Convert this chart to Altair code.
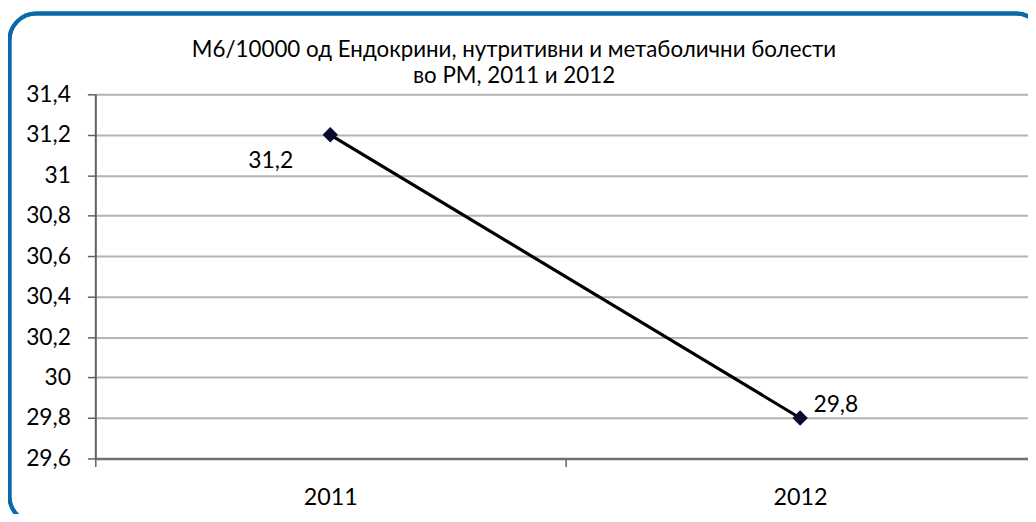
import altair as alt
import pandas as pd

years = [2011, 2012]
values = [31.2, 29.8]
value_labels = ["31,2", "29,8"]
y_ticks = [29.6, 29.8, 30.0, 30.2, 30.4, 30.6, 30.8, 31.0, 31.2, 31.4]
x_ticks = [2010.5, 2011, 2011.5, 2012]
title_lines = ["М6/10000 од Ендокрини, нутритивни и метаболични болести", "во РМ, 2011 и 2012"]

df = pd.DataFrame({"year": years, "value": values, "label": value_labels})
title_df = pd.DataFrame({"line": title_lines})

FONT = "Lato"

x_enc = alt.X(
    "year:Q",
    scale=alt.Scale(domain=[2010.5, 2012.485], nice=False, zero=False),
    axis=alt.Axis(
        values=x_ticks,
        labelExpr="(datum.value == 2011 || datum.value == 2012) ? '' + datum.value : ''",
        tickOpacity={"condition": {"test": "datum.value == 2011 || datum.value == 2012", "value": 0}, "value": 1},
        grid=False,
        title=None,
        tickSize=8,
        tickColor="#606060",
        tickWidth=1.5,
        domainColor="#707070",
        domainWidth=2.5,
        labelPadding=19,
        labelFontSize=23.5,
        labelFont=FONT,
        labelColor="#000000",
        labelFlush=False,
        labelOverlap=False,
    ),
)
y_enc = alt.Y(
    "value:Q",
    scale=alt.Scale(domain=[29.6, 31.4], nice=False, zero=False),
    axis=alt.Axis(
        values=y_ticks,
        labelExpr="replace('' + round(datum.value * 10) / 10, '.', ',')",
        grid=True,
        gridColor="#b4b4b4",
        gridWidth=2,
        title=None,
        tickSize=8,
        tickColor="#606060",
        tickWidth=1.5,
        domainColor="#606060",
        domainWidth=2,
        labelPadding=17,
        labelFontSize=23,
        labelFont=FONT,
        labelColor="#000000",
        labelOverlap=False,
    ),
)

base = alt.Chart(df)

frame = base.mark_rect(
    fill=None, filled=False, stroke="#0b69ab", strokeWidth=4, cornerRadius=27
).encode(
    x=alt.value(-86.5), x2=alt.value(955), y=alt.value(-81.5), y2=alt.value(432)
)

title1 = alt.Chart(title_df).transform_filter(
    alt.datum.line == title_lines[0]
).mark_text(font=FONT, fontSize=22.5, color="#000000", align="center", baseline="alphabetic").encode(
    x=alt.value(422), y=alt.value(-38), text="line:N"
)
title2 = alt.Chart(title_df).transform_filter(
    alt.datum.line == title_lines[1]
).mark_text(font=FONT, fontSize=22.5, color="#000000", align="center", baseline="alphabetic").encode(
    x=alt.value(422), y=alt.value(-11), text="line:N"
)

line = base.mark_line(color="#000000", strokeWidth=3.2).encode(x=x_enc, y=y_enc)
points = base.mark_point(
    shape="diamond", filled=True, size=240, color="#0a0a30", opacity=1
).encode(x="year:Q", y="value:Q")

lab1 = base.transform_filter("datum.year == 2011").mark_text(
    font=FONT, fontSize=23, color="#000000", dx=-60, dy=26
).encode(x="year:Q", y="value:Q", text="label:N")
lab2 = base.transform_filter("datum.year == 2012").mark_text(
    font=FONT, fontSize=23, color="#000000", dx=36, dy=-13
).encode(x="year:Q", y="value:Q", text="label:N")

chart = alt.layer(frame, line, points, lab1, lab2, title1, title2).properties(
    width=940,
    height=367,
    autosize=alt.AutoSizeParams(type="none"),
    padding={"left": 88, "top": 85, "right": 0, "bottom": 54},
).configure_view(stroke=None).configure(background="white")

chart.save("out.html", embed_options={"renderer": "svg", "actions": False})
